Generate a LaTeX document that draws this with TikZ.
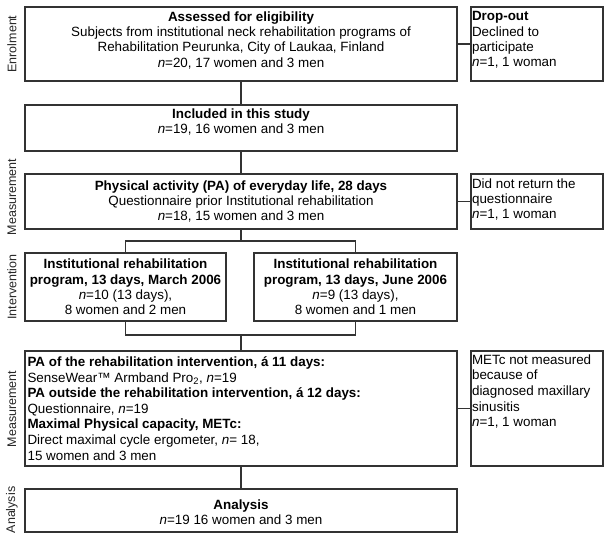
\documentclass[tikz,border=0pt]{standalone}
\usepackage{fontspec}
\setmainfont{Liberation Sans}
\usetikzlibrary{fit}
\tikzset{
  box/.style={draw=black!80, line width=1.3pt, inner sep=0pt},
  conn/.style={draw=black!80, line width=1.3pt},
  ctext/.style={align=center, font=\fontsize{13.4}{15.3}\selectfont, inner sep=0pt},
  ltext/.style={align=left, font=\fontsize{13.4}{15.6}\selectfont, inner sep=0pt},
  stext/.style={align=left, font=\fontsize{13.4}{15.3}\selectfont, inner sep=0pt},
  side/.style={rotate=90, font=\fontsize{12.5}{14}\selectfont, text=black!85, inner sep=0pt},
}
\begin{document}
\begin{tikzpicture}[x=1pt,y=-1pt]
\useasboundingbox (0,0) rectangle (610,547);
% boxes
\node[box, fit={(25,7) (457,81)}] (b1) {};
\node[box, fit={(471,7) (603,81)}] (d1) {};
\node[box, fit={(25,105) (457,151)}] (b2) {};
\node[box, fit={(25,174) (457,229)}] (b3) {};
\node[box, fit={(471,174) (603,229)}] (d2) {};
\node[box, fit={(25,253) (226,321)}] (b4a) {};
\node[box, fit={(254,253) (457,321)}] (b4b) {};
\node[box, fit={(25,351) (457,466)}] (b5) {};
\node[box, fit={(471,351) (603,466)}] (d3) {};
\node[box, fit={(25,489) (457,532)}] (b6) {};
% texts
\node[ctext, anchor=north] (t1) at ([yshift=-5pt]b1.north) {\textbf{Assessed for eligibility}\\Subjects from institutional neck rehabilitation programs of\\Rehabilitation Peurunka, City of Laukaa, Finland\\\textit{n}=20, 17 women and 3 men};
\node[stext, anchor=north west] (td1) at ([xshift=1.5pt,yshift=-5pt]d1.north west) {\textbf{Drop-out}\\Declined to\\participate\\\textit{n}=1, 1 woman};
\node[ctext, anchor=north] (t2) at ([yshift=-4pt]b2.north) {\textbf{Included in this study}\\\textit{n}=19, 16 women and 3 men};
\node[ctext] (t3) at (b3.center) {\textbf{Physical activity (PA) of everyday life, 28 days}\\Questionnaire prior Institutional rehabilitation\\\textit{n}=18, 15 women and 3 men};
\node[stext, anchor=north west] (td2) at ([xshift=1.5pt,yshift=-5pt]d2.north west) {Did not return the\\questionnaire\\\textit{n}=1, 1 woman};
\node[ctext] (t4a) at (b4a.center) {\textbf{Institutional rehabilitation}\\\textbf{program, 13 days, March 2006}\\\textit{n}=10 (13 days),\\8 women and 2 men};
\node[ctext] (t4b) at (b4b.center) {\textbf{Institutional rehabilitation}\\\textbf{program, 13 days, June 2006}\\\textit{n}=9 (13 days),\\8 women and 1 men};
\node[ltext, anchor=west] (t5) at ([xshift=3pt]b5.west) {\textbf{PA of the rehabilitation intervention, á 11 days:}\\SenseWear™ Armband Pro\textsubscript{2}, \textit{n}=19\\\textbf{PA outside the rehabilitation intervention, á 12 days:}\\Questionnaire, \textit{n}=19\\\textbf{Maximal Physical capacity, METc:}\\Direct maximal cycle ergometer, \textit{n}= 18,\\15 women and 3 men};
\node[ltext, anchor=north west] (td3) at ([xshift=1.5pt,yshift=-4pt]d3.north west) {METc not measured\\because of\\diagnosed maxillary\\sinusitis\\\textit{n}=1, 1 woman};
\node[ctext] (t6) at ([yshift=-2pt]b6.center) {\textbf{Analysis}\\\textit{n}=19 16 women and 3 men};
% side labels
\node[side] (l1) at (12,44) {Enrolment};
\node[side] (l2) at (12,197) {Measurement};
\node[side] (l3) at (12,287) {Intervention};
\node[side] (l4) at (12,409) {Measurement};
\node[side] (l5) at (12,510) {Analysis};
% connectors
\coordinate (split) at (241,241);
\coordinate (join) at (241,335);
\draw[conn] (b1.south) -- (b2.north);
\draw[conn] (b1.east) -- (d1.west);
\draw[conn] (b2.south) -- (b3.north);
\draw[conn] (b3.east) -- (d2.west);
\draw[conn] (b3.south) -- (split);
\draw[conn] (b4a.north) |- (split) -| (b4b.north);
\draw[conn] (b4a.south) |- (join) -| (b4b.south);
\draw[conn] (join) -- (b5.north);
\draw[conn] (b5.east) -- (d3.west);
\draw[conn] (b5.south) -- (b6.north);
\end{tikzpicture}
\end{document}
